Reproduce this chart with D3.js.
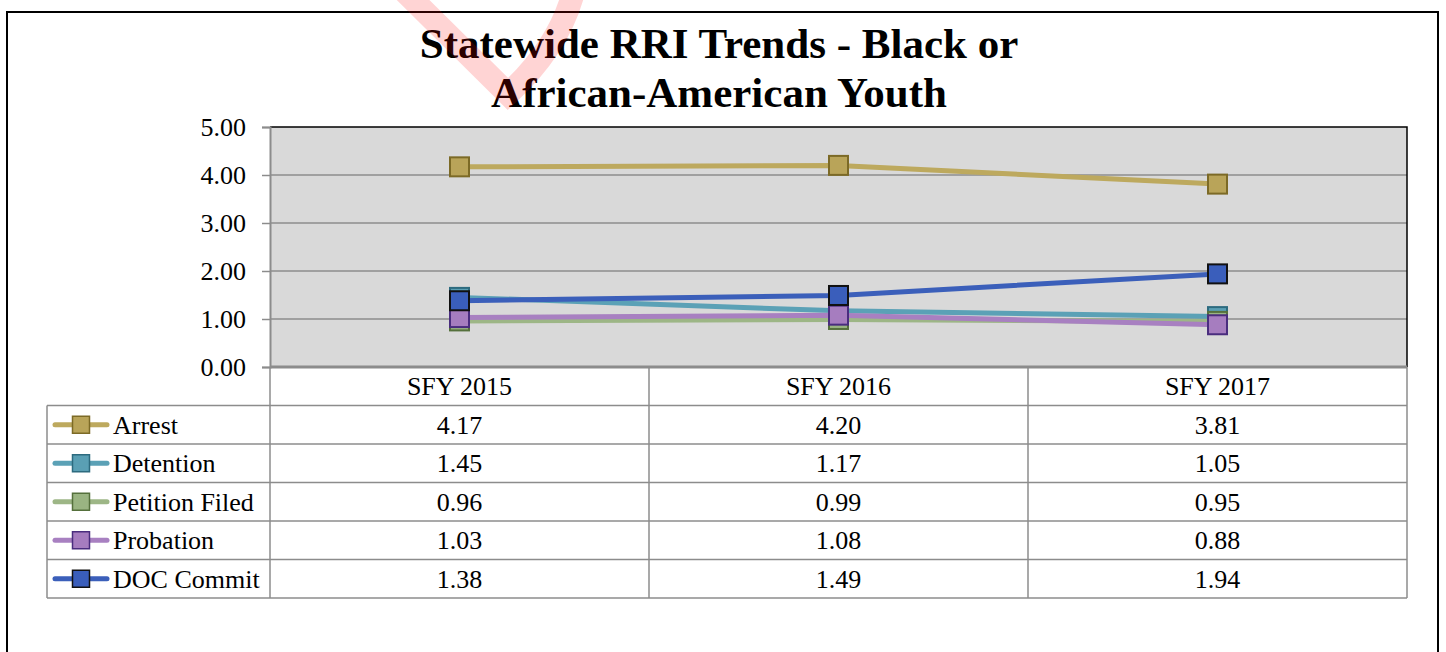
<!DOCTYPE html>
<html>
<head>
<meta charset="utf-8">
<script src="https://cdn.jsdelivr.net/npm/d3@7"></script>
<style>
  html, body { margin: 0; padding: 0; background: #fff; }
  svg { display: block; }
</style>
</head>
<body>
<svg id="chart" width="1446" height="652" font-family="Liberation Serif, Times New Roman, serif"></svg>
<script>
// ---- data ----
const categories = ["SFY 2015", "SFY 2016", "SFY 2017"];
const seriesNames = ["Arrest", "Detention", "Petition Filed", "Probation", "DOC Commit"];
const arrest = [4.17, 4.20, 3.81];
const detention = [1.45, 1.17, 1.05];
const petitionFiled = [0.96, 0.99, 0.95];
const probation = [1.03, 1.08, 0.88];
const docCommit = [1.38, 1.49, 1.94];
const yTicks = [0, 1, 2, 3, 4, 5];
const titleLines = ["Statewide RRI Trends - Black or", "African-American Youth"];

const lineColors = ["#bda95e", "#5ba1b6", "#9db686", "#a880c1", "#3b5fba"];
const markerFills = ["#b9a459", "#5a9fb4", "#9ab482", "#a67dbf", "#3a5ebb"];
const markerStrokes = ["#7c6a26", "#2d6b7f", "#55703c", "#4a2d7e", "#111111"];

const seriesValues = [arrest, detention, petitionFiled, probation, docCommit];
const series = seriesNames.map((name, i) => ({
  name, values: seriesValues[i],
  line: lineColors[i], fill: markerFills[i], stroke: markerStrokes[i]
}));

// ---- layout ----
const FONT = "Liberation Serif";
const svg = d3.select("#chart");
const plot = { left: 270, right: 1407, top: 127, bottom: 367 };
const tableLeft = 47;
const rowH = 38.5;
const fs = 26;

const x = d3.scaleBand().domain(categories).range([plot.left, plot.right]);
const y = d3.scaleLinear().domain([0, 5]).range([plot.bottom, plot.top]);

// outer border
svg.append("rect").attr("x", 7).attr("y", 12).attr("width", 1431).attr("height", 700)
  .attr("fill", "#fff").attr("stroke", "#000").attr("stroke-width", 2);

// title
const title = svg.append("text").attr("text-anchor", "middle").attr("font-family", FONT)
  .attr("font-weight", "bold").attr("font-size", 43).attr("fill", "#000");
titleLines.forEach((t, i) => {
  title.append("tspan").attr("x", 719).attr("y", 58 + i * 49).text(t);
});

// plot background
svg.append("rect").attr("x", plot.left).attr("y", plot.top)
  .attr("width", plot.right - plot.left).attr("height", plot.bottom - plot.top)
  .attr("fill", "#d9d9d9");

// gridlines
svg.append("g").selectAll("line").data(yTicks.filter(d => d > 0 && d < 5)).join("line")
  .attr("x1", plot.left).attr("x2", plot.right)
  .attr("y1", d => y(d)).attr("y2", d => y(d))
  .attr("stroke", "#8c8c8c").attr("stroke-width", 1.5);

// plot top/right border
svg.append("path")
  .attr("d", `M${plot.left},${plot.top}H${plot.right}V${plot.bottom}`)
  .attr("fill", "none").attr("stroke", "#000").attr("stroke-width", 1.5);

// y axis
const yAxis = svg.append("g").attr("transform", `translate(${plot.left},0)`)
  .call(d3.axisLeft(y).tickValues(yTicks).tickFormat(d3.format(".2f")).tickSize(8).tickPadding(16));
yAxis.attr("font-family", FONT).attr("font-size", fs);
yAxis.select(".domain").attr("stroke", "#8c8c8c").attr("stroke-width", 2);
yAxis.selectAll(".tick line").attr("stroke", "#8c8c8c").attr("stroke-width", 1.5);
yAxis.selectAll(".tick text").attr("fill", "#000").attr("dy", "0.34em");

// ---- data table ----
const tbl = svg.append("g").attr("font-family", FONT).attr("font-size", fs);
const tableBottom = plot.bottom + rowH * (series.length + 1);
const gridColor = "#8c8c8c";
const hLines = d3.range(series.length + 2).map(i => plot.bottom + i * rowH);
tbl.selectAll("line.h").data(hLines).join("line").attr("class", "h")
  .attr("x1", (d, i) => i <= 0 ? plot.left : tableLeft).attr("x2", plot.right)
  .attr("y1", d => d).attr("y2", d => d)
  .attr("stroke", gridColor).attr("stroke-width", 1.5);
const vXs = [plot.left].concat(categories.map(c => x(c) + x.bandwidth()));
tbl.selectAll("line.v").data(vXs).join("line").attr("class", "v")
  .attr("x1", d => d).attr("x2", d => d)
  .attr("y1", plot.bottom).attr("y2", tableBottom)
  .attr("stroke", gridColor).attr("stroke-width", 1.5);
tbl.append("line").attr("x1", tableLeft).attr("x2", tableLeft)
  .attr("y1", plot.bottom + rowH).attr("y2", tableBottom)
  .attr("stroke", gridColor).attr("stroke-width", 1.5);
svg.append("line").attr("x1", plot.left).attr("x2", plot.right)
  .attr("y1", plot.bottom).attr("y2", plot.bottom)
  .attr("stroke", "#8c8c8c").attr("stroke-width", 3);

// category headers
tbl.selectAll("text.cat").data(categories).join("text").attr("class", "cat")
  .attr("x", d => x(d) + x.bandwidth() / 2).attr("y", plot.bottom + rowH / 2 + 9)
  .attr("text-anchor", "middle").text(d => d);

// rows
series.forEach((s, i) => {
  const cy = plot.bottom + rowH * (i + 1) + rowH / 2;
  const g = tbl.append("g");
  g.append("line").attr("x1", 55).attr("x2", 107).attr("y1", cy).attr("y2", cy)
    .attr("stroke", s.line).attr("stroke-width", 5).attr("stroke-linecap", "round");
  g.append("rect").attr("x", 72.5).attr("y", cy - 8.5).attr("width", 17).attr("height", 17)
    .attr("fill", s.fill).attr("stroke", s.stroke).attr("stroke-width", 1.5);
  g.append("text").attr("x", 113).attr("y", cy + 9).text(s.name);
  g.selectAll("text.val").data(s.values).join("text").attr("class", "val")
    .attr("x", (d, j) => x(categories[j]) + x.bandwidth() / 2).attr("y", cy + 9)
    .attr("text-anchor", "middle")
    .text(d => d3.format(".2f")(d));
});

// ---- lines and markers ----
const line = d3.line()
  .x((d, j) => x(categories[j]) + x.bandwidth() / 2)
  .y(d => y(d));
const ms = 19;
series.forEach(s => {
  const g = svg.append("g");
  g.append("path").datum(s.values).attr("d", line)
    .attr("fill", "none").attr("stroke", s.line).attr("stroke-width", 5)
    .attr("stroke-linejoin", "round");
  g.selectAll("rect").data(s.values).join("rect")
    .attr("x", (d, j) => x(categories[j]) + x.bandwidth() / 2 - ms / 2)
    .attr("y", d => y(d) - ms / 2)
    .attr("width", ms).attr("height", ms)
    .attr("fill", s.fill).attr("stroke", s.stroke).attr("stroke-width", 2);
});

// red check mark overlay
svg.append("path")
  .attr("d", "M403,-10 L508,94 Q560,46 574,-10")
  .attr("fill", "none").attr("stroke", "rgba(255,0,0,0.17)")
  .attr("stroke-width", 23).attr("stroke-linejoin", "miter");
</script>
</body>
</html>
